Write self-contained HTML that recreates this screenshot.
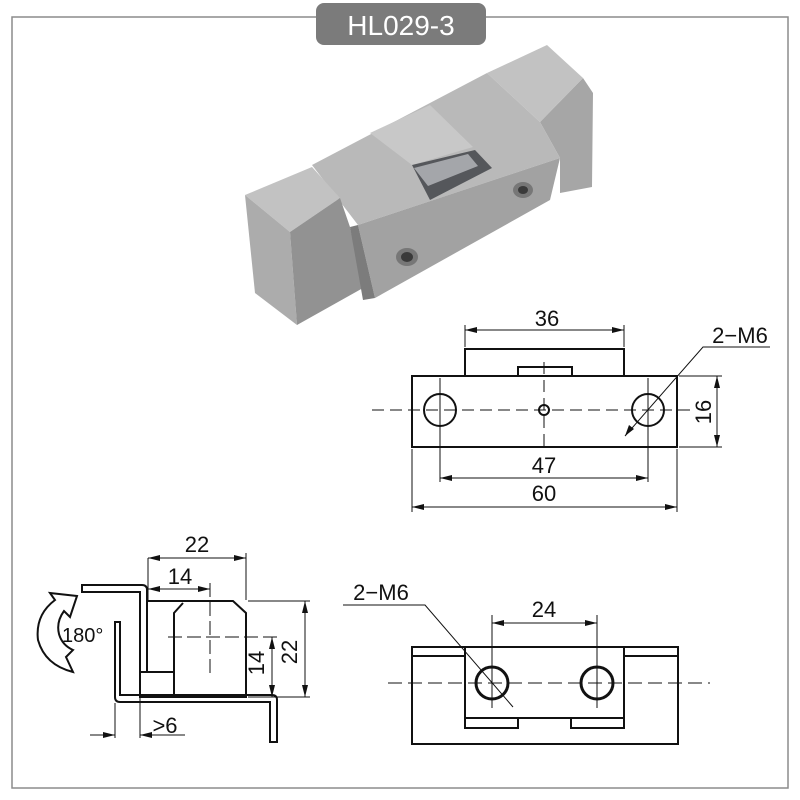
<!DOCTYPE html>
<html><head><meta charset="utf-8"><style>
html,body{margin:0;padding:0;background:#fff}
svg{display:block}
text{font-family:"Liberation Sans",Arial,sans-serif;fill:#111}
</style></head><body>
<svg width="800" height="800" viewBox="0 0 800 800" xmlns="http://www.w3.org/2000/svg">
<rect x="12" y="17" width="776" height="771" fill="none" stroke="#8c8c8c" stroke-width="1.5"/>
<rect x="316" y="3" width="170" height="42" rx="8" fill="#7b7b7b"/>
<text x="401" y="35" font-size="28" text-anchor="middle" style="fill:#fff">HL029-3</text>

<!-- photo -->
<g stroke="none">
<polygon points="540,122 583,78 593,93 592,187 560,193 560,158" fill="#a6a6a6"/>
<polygon points="487,73 547,45 583,78 540,122" fill="#c2c2c2"/>
<polygon points="312,165 487,73 540,122 560,158 358,225" fill="#b9b9b9"/>
<polygon points="370,133 430,105 473,147 412,165" fill="#c8c8c8"/>
<polygon points="412,165 475,150 492,168 430,200" fill="#55575b"/>
<polygon points="414,168 468,154 478,166 428,186" fill="#a4a6aa"/>
<polygon points="358,225 560,158 550,200 375,298" fill="#a2a2a2"/>
<polygon points="245,195 312,167 340,198 290,232" fill="#c2c2c2"/>
<polygon points="245,195 290,232 297,325 255,293" fill="#acacac"/>
<polygon points="290,232 340,198 350,227 363,288 297,325" fill="#929292"/>
<polygon points="350,227 358,225 375,298 363,300" fill="#7c7c7c"/>
<ellipse cx="407" cy="257" rx="11" ry="9" fill="#777"/>
<ellipse cx="407" cy="257" rx="6" ry="5" fill="#3a3a3a"/>
<ellipse cx="523" cy="190" rx="10" ry="8" fill="#777"/>
<ellipse cx="523" cy="190" rx="5" ry="4" fill="#3a3a3a"/>
</g>

<g fill="none" stroke="#111" stroke-width="2">
<rect x="412" y="376" width="265" height="71"/>
<polyline points="465,376 465,349 624,349 624,376"/>
<polyline points="518,376 518,367 572,367 572,376"/>
<circle cx="440" cy="410" r="16"/>
<circle cx="648" cy="410" r="16"/>
<circle cx="544" cy="410" r="5"/>
</g>
<g fill="none" stroke="#111" stroke-width="1">
<line x1="372" y1="410" x2="692" y2="410" stroke-dasharray="12,6"/>
<line x1="544" y1="362" x2="544" y2="450" stroke-dasharray="12,6"/>
<line x1="440" y1="378" x2="440" y2="482"/>
<line x1="648" y1="378" x2="648" y2="482"/>
<line x1="465" y1="347" x2="465" y2="325"/>
<line x1="624" y1="347" x2="624" y2="325"/>
<line x1="465" y1="330" x2="624" y2="330"/>
<polyline points="625,436 703,347 770,347"/>
<line x1="679" y1="376" x2="722" y2="376"/>
<line x1="679" y1="447" x2="722" y2="447"/>
<line x1="717" y1="376" x2="717" y2="447"/>
<line x1="440" y1="478" x2="648" y2="478"/>
<line x1="412" y1="449" x2="412" y2="512"/>
<line x1="677" y1="449" x2="677" y2="512"/>
<line x1="412" y1="507" x2="677" y2="507"/>
</g>
<g fill="#111">
<polygon points="465,330 477,327 477,333"/><polygon points="624,330 612,327 612,333"/>
<polygon points="717,376 714,388 720,388"/><polygon points="717,447 714,435 720,435"/>
<polygon points="440,478 452,475 452,481"/><polygon points="648,478 636,475 636,481"/>
<polygon points="412,507 424,504 424,510"/><polygon points="677,507 665,504 665,510"/>
<polygon points="625,436 629,425 634,429"/>
</g>
<text x="547" y="326" font-size="22" text-anchor="middle">36</text>
<text x="740" y="343" font-size="22" text-anchor="middle">2−M6</text>
<text x="544" y="473" font-size="22" text-anchor="middle">47</text>
<text x="544" y="501" font-size="22" text-anchor="middle">60</text>
<text transform="translate(711,412) rotate(-90)" font-size="22" text-anchor="middle">16</text>

<g fill="none" stroke="#111" stroke-width="2">
<polyline points="148,601 233,601 246,613 246,697 174,697 174,613 183,603"/>
<rect x="140" y="672" width="34" height="25"/>
<path d="M82,585 L142,585 Q147,585 147,590 L147,672 L140,672 L140,592 L82,592 Z"/>
<path d="M115,622 L120,622 L120,695 L272,695 Q277,695 277,700 L277,742 L270,742 L270,702 L120,702 Q115,702 115,697 Z"/>
</g>
<g fill="none" stroke="#111" stroke-width="1">
<line x1="148" y1="558" x2="148" y2="600"/>
<line x1="246" y1="553" x2="246" y2="600"/>
<line x1="148" y1="558" x2="246" y2="558"/>
<line x1="148" y1="589" x2="210" y2="589"/>
<line x1="210" y1="583" x2="210" y2="677" stroke-dasharray="14,5"/>
<line x1="168" y1="637" x2="277" y2="637" stroke-dasharray="14,5"/>
<line x1="248" y1="601" x2="310" y2="601"/>
<line x1="248" y1="697" x2="310" y2="697"/>
<line x1="305" y1="601" x2="305" y2="697"/>
<line x1="272" y1="637" x2="272" y2="697"/>
<line x1="115" y1="703" x2="115" y2="738"/>
<line x1="140" y1="698" x2="140" y2="738"/>
<line x1="90" y1="735" x2="115" y2="735"/>
<line x1="140" y1="735" x2="185" y2="735"/>
</g>
<g fill="#111">
<polygon points="148,558 160,555 160,561"/><polygon points="246,558 234,555 234,561"/>
<polygon points="148,589 160,586 160,592"/><polygon points="210,589 198,586 198,592"/>
<polygon points="305,601 302,613 308,613"/><polygon points="305,697 302,685 308,685"/>
<polygon points="272,637 269,649 275,649"/><polygon points="272,697 269,685 275,685"/>
<polygon points="115,735 103,732 103,738"/><polygon points="140,735 152,732 152,738"/>
</g>
<text x="197" y="552" font-size="22" text-anchor="middle">22</text>
<text x="180" y="584" font-size="22" text-anchor="middle">14</text>
<text transform="translate(264,663) rotate(-90)" font-size="22" text-anchor="middle">14</text>
<text transform="translate(297,652) rotate(-90)" font-size="22" text-anchor="middle">22</text>
<text x="165" y="733" font-size="22" text-anchor="middle">&gt;6</text>
<path d="M50,593 L77,596 L70,617 L64,611 Q56,622 59,634 Q62,645 73,650 L66,657 L73,672 Q45,665 38,640 Q35,615 55,600 Z" fill="none" stroke="#111" stroke-width="2"/>
<text x="62" y="642" font-size="20">180°</text>

<g fill="none" stroke="#111" stroke-width="2">
<rect x="412" y="647" width="266" height="97"/>
<line x1="412" y1="656" x2="465" y2="656"/>
<line x1="624" y1="656" x2="678" y2="656"/>
<polyline points="465,647 465,718 624,718 624,647"/>
<polyline points="465,718 465,728 518,728 518,718"/>
<polyline points="571,718 571,728 624,728 624,718"/>
<circle cx="492" cy="683" r="16" stroke-width="3"/>
<circle cx="597" cy="683" r="16" stroke-width="3"/>
</g>
<g fill="none" stroke="#111" stroke-width="1">
<line x1="388" y1="683" x2="710" y2="683" stroke-dasharray="14,6"/>
<line x1="492" y1="615" x2="492" y2="708"/>
<line x1="597" y1="615" x2="597" y2="708"/>
<line x1="492" y1="623" x2="597" y2="623"/>
<polyline points="343,605 425,605 513,707"/>
</g>
<g fill="#111">
<polygon points="492,623 504,620 504,626"/><polygon points="597,623 585,620 585,626"/>
</g>
<text x="544" y="617" font-size="22" text-anchor="middle">24</text>
<text x="381" y="600" font-size="22" text-anchor="middle">2−M6</text>
</svg>
</body></html>
